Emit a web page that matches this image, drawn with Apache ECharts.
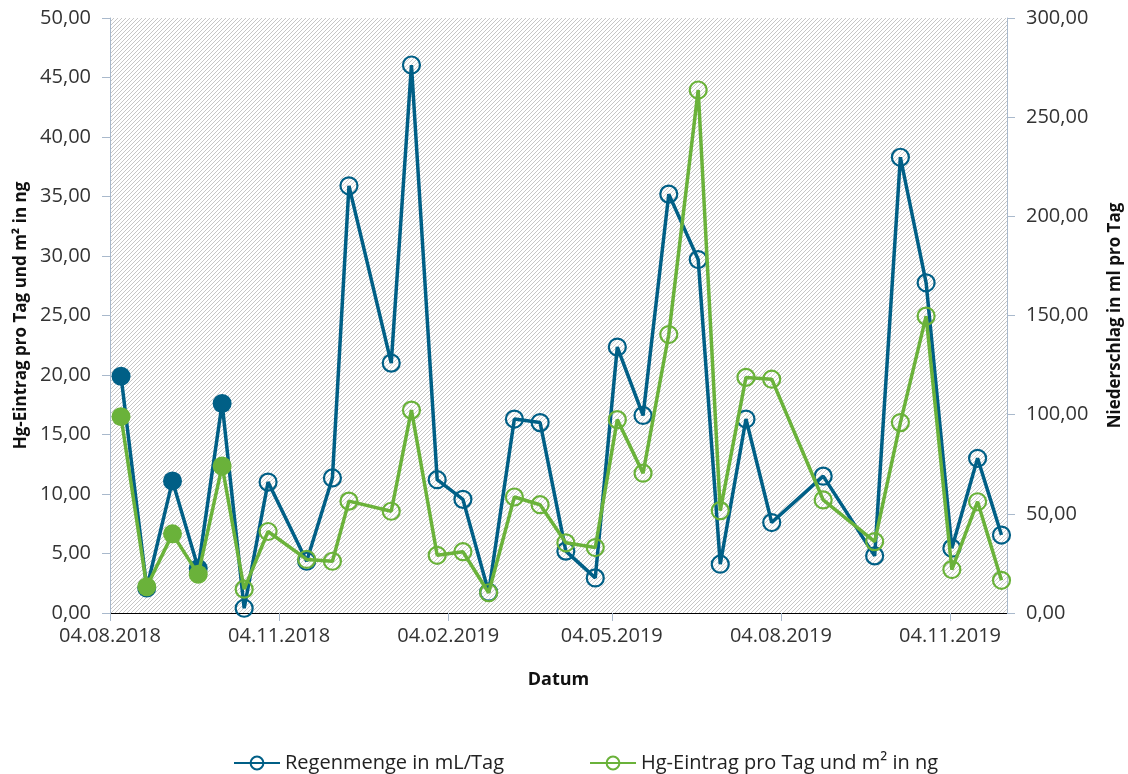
<!DOCTYPE html>
<html>
<head>
<meta charset="utf-8">
<script src="https://cdn.jsdelivr.net/npm/echarts@6/dist/echarts.min.js"></script>
<style>
  html, body { margin: 0; padding: 0; background: #fff; }
  #chart { width: 1128px; height: 774px; }
</style>
</head>
<body>
<div id="chart"></div>
<script>
// sampling dates
const dates = [
  '2018-08-10', '2018-08-24', '2018-09-07', '2018-09-21', '2018-10-04', '2018-10-16',
  '2018-10-29', '2018-11-19', '2018-12-03', '2018-12-12', '2019-01-04', '2019-01-15',
  '2019-01-29', '2019-02-12', '2019-02-26', '2019-03-12', '2019-03-26', '2019-04-09',
  '2019-04-25', '2019-05-07', '2019-05-21', '2019-06-04', '2019-06-20', '2019-07-02',
  '2019-07-16', '2019-07-30', '2019-08-27', '2019-09-24', '2019-10-08', '2019-10-22',
  '2019-11-05', '2019-11-19', '2019-12-02'
];

// Regenmenge in mL/Tag (right axis)
const rain = [
  119.4, 12.6, 66.6, 22.5, 105.6, 2.4, 66.0, 26.1, 68.1, 215.4, 126.0, 276.3,
  67.2, 57.3, 10.5, 97.8, 96.0, 31.2, 17.7, 134.1, 99.6, 211.2, 178.2, 24.6,
  97.8, 45.6, 69.0, 28.8, 229.8, 166.5, 32.7, 78.0, 39.3
];

// Hg-Eintrag pro Tag und m² in ng (left axis)
const hg = [
  16.5, 2.2, 6.65, 3.25, 12.35, 2.0, 6.85, 4.5, 4.35, 9.4, 8.55, 17.05,
  4.85, 5.15, 1.7, 9.75, 9.1, 5.9, 5.5, 16.25, 11.75, 23.4, 43.95, 8.6,
  19.8, 19.65, 9.5, 6.0, 16.0, 24.95, 3.65, 9.35, 2.75
];

// first samples drawn with filled markers
const filledCount = 5;

const xTicks = ['2018-08-04', '2018-11-04', '2019-02-04', '2019-05-04', '2019-08-04', '2019-11-04'];
const xMin = '2018-08-04';
const xMax = '2019-12-05';

const BLUE = '#005F86';
const GREEN = '#6AB23A';
const AXIS = '#A9B9CC';
const FONT = 'Open Sans';

// diagonal hatch for the plot background
function hatch() {
  const c = document.createElement('canvas');
  c.width = 4; c.height = 4;
  const ctx = c.getContext('2d');
  ctx.fillStyle = '#ffffff';
  ctx.fillRect(0, 0, 4, 4);
  ctx.fillStyle = '#c6c6c6';
  for (let i = 0; i < 4; i++) ctx.fillRect(i, 3 - i, 1, 1);
  return c;
}

const toTs = s => { const p = s.split('-'); return Date.UTC(+p[0], +p[1] - 1, +p[2]); };
const fmtDate = v => {
  const d = new Date(v);
  const dd = String(d.getUTCDate()).padStart(2, '0');
  const mm = String(d.getUTCMonth() + 1).padStart(2, '0');
  return dd + '.' + mm + '.' + d.getUTCFullYear();
};
const fmtNum = v => v.toFixed(2).replace('.', ',');

function points(vals, color) {
  return vals.map((v, i) => {
    const item = { value: [toTs(dates[i]), v] };
    if (i < filledCount) {
      item.symbolSize = 19;
      item.itemStyle = { color: color, borderWidth: 0 };
    }
    return item;
  });
}

const chart = echarts.init(document.getElementById('chart'));

const option = {
  backgroundColor: '#fff',
  animation: false,
  textStyle: { fontFamily: FONT },
  grid: {
    left: 110, right: 121, top: 18, bottom: 161,
    outerBoundsMode: 'none',
    show: true,
    borderWidth: 0,
    backgroundColor: { image: hatch(), repeat: 'repeat' }
  },
  legend: {
    top: 748,
    left: 228,
    itemWidth: 46,
    itemHeight: 16,
    itemGap: 85,
    textStyle: { fontSize: 20, color: '#222', fontFamily: FONT },
    data: ['Regenmenge in mL/Tag', 'Hg-Eintrag pro Tag und m² in ng']
  },
  xAxis: [
    {
      type: 'value',
      min: toTs(xMin),
      max: toTs(xMax),
      name: 'Datum',
      nameLocation: 'middle',
      nameGap: 58,
      nameTextStyle: { fontSize: 18, fontWeight: 'bold', color: '#111' },
      axisLine: { lineStyle: { color: AXIS, width: 1 } },
      axisTick: { show: true, length: 8, lineStyle: { color: AXIS }, customValues: xTicks.map(toTs) },
      axisLabel: {
        customValues: xTicks.map(toTs),
        formatter: fmtDate,
        fontSize: 20, color: '#333', margin: 13
      },
      splitLine: { show: false }
    },
    {
      type: 'value',
      position: 'top',
      min: 0, max: 1,
      axisLine: { show: true, lineStyle: { color: '#000', width: 1 } },
      axisTick: { show: false },
      axisLabel: { show: false },
      splitLine: { show: false }
    }
  ],
  yAxis: [
    {
      type: 'value',
      min: 0, max: 50, interval: 5,
      position: 'left',
      name: 'Hg-Eintrag pro Tag und m² in ng',
      nameLocation: 'middle',
      nameRotate: 90,
      nameGap: 80,
      nameTextStyle: { fontSize: 17, fontWeight: 'bold', color: '#111' },
      axisLine: { show: true, lineStyle: { color: AXIS } },
      axisTick: { show: true, length: 8, lineStyle: { color: AXIS } },
      axisLabel: { formatter: fmtNum, fontSize: 20, color: '#333', margin: 19 },
      splitLine: { show: false }
    },
    {
      type: 'value',
      min: 0, max: 300, interval: 50,
      position: 'right',
      name: 'Niederschlag in ml pro Tag',
      nameLocation: 'middle',
      nameRotate: 90,
      nameGap: 100,
      nameTextStyle: { fontSize: 17, fontWeight: 'bold', color: '#111' },
      axisLine: { show: true, lineStyle: { color: AXIS } },
      axisTick: { show: true, length: 8, lineStyle: { color: AXIS } },
      axisLabel: { formatter: fmtNum, fontSize: 20, color: '#333', margin: 19 },
      splitLine: { show: false }
    }
  ],
  series: [
    {
      name: 'Regenmenge in mL/Tag',
      type: 'line',
      yAxisIndex: 1,
      data: points(rain, BLUE),
      symbol: 'circle',
      symbolSize: 17,
      showAllSymbol: true,
      lineStyle: { color: BLUE, width: 3.5 },
      itemStyle: { color: 'rgba(0,0,0,0)', borderColor: BLUE, borderWidth: 2.2 },
      z: 2
    },
    {
      name: 'Hg-Eintrag pro Tag und m² in ng',
      type: 'line',
      yAxisIndex: 0,
      data: points(hg, GREEN),
      symbol: 'circle',
      symbolSize: 17,
      showAllSymbol: true,
      lineStyle: { color: GREEN, width: 3.5 },
      itemStyle: { color: 'rgba(0,0,0,0)', borderColor: GREEN, borderWidth: 2.2 },
      z: 3
    }
  ]
};

chart.setOption(option);
</script>
</body>
</html>
